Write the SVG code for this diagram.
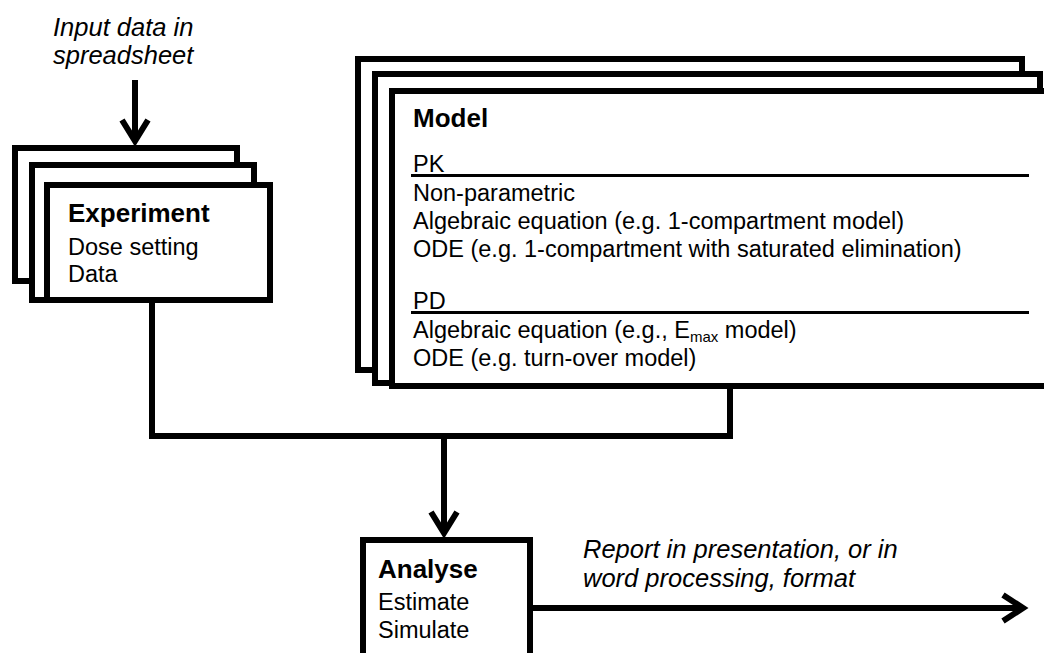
<svg xmlns="http://www.w3.org/2000/svg" width="1044" height="653" viewBox="0 0 1044 653">
  <style>
    .box { fill: #ffffff; stroke: #000000; stroke-width: 6; stroke-linejoin: miter; }
    .wire { fill: none; stroke: #000000; stroke-width: 6; stroke-linejoin: miter; stroke-linecap: butt; }
    .rule { stroke: #000000; stroke-width: 3; }
    text { font-family: "Liberation Sans", Arial, sans-serif; fill: #000000; }
    .head { font-size: 26px; font-weight: bold; }
    .body { font-size: 23.5px; }
    .note { font-size: 25.5px; font-style: italic; }
    .sub { font-size: 15px; }
  </style>

  <rect x="0" y="0" width="1044" height="653" fill="#ffffff"/>

  <!-- connectors -->
  <g id="connectors">
    <!-- spreadsheet input into Experiment -->
    <line class="wire" x1="135" y1="80" x2="135" y2="142"/>
    <polyline class="wire" points="122,120 135,141 148,120"/>
    <!-- Experiment and Model merge into Analyse -->
    <polyline class="wire" points="152,300 152,436 730,436 730,386"/>
    <line class="wire" x1="444" y1="436" x2="444" y2="534"/>
    <polyline class="wire" points="431,512 444,533 457,512"/>
    <!-- report output -->
    <line class="wire" x1="530" y1="608" x2="1023" y2="608"/>
    <polyline class="wire" points="1003,595 1023,608 1003,621"/>
  </g>

  <g id="label-input">
    <text class="note" x="53" y="35.5">Input data in</text>
    <text class="note" x="53" y="63.5">spreadsheet</text>
  </g>

  <g id="label-report">
    <text class="note" x="583" y="558">Report in presentation, or in</text>
    <text class="note" x="583" y="587">word processing, format</text>
  </g>

  <!-- Experiment: stacked cards -->
  <g id="node-experiment">
    <rect class="box" x="15" y="148" width="222" height="133"/>
    <rect class="box" x="32" y="165" width="222" height="135"/>
    <rect class="box" x="47" y="185" width="223" height="115"/>
    <text class="head" x="68" y="222">Experiment</text>
    <text class="body" x="68" y="255">Dose setting</text>
    <text class="body" x="68" y="282">Data</text>
  </g>

  <!-- Model: stacked cards -->
  <g id="node-model">
    <rect class="box" x="358" y="59" width="664" height="311"/>
    <rect class="box" x="375" y="74" width="665" height="309"/>
    <rect class="box" x="392" y="91" width="680" height="295"/>
    <text class="head" x="413" y="127">Model</text>
    <text class="body" x="413" y="171.5">PK</text>
    <line class="rule" x1="411" y1="175.5" x2="1029" y2="175.5"/>
    <text class="body" x="413" y="200.5">Non-parametric</text>
    <text class="body" x="413" y="229">Algebraic equation (e.g. 1-compartment model)</text>
    <text class="body" x="413" y="257">ODE (e.g. 1-compartment with saturated elimination)</text>
    <text class="body" x="413" y="309">PD</text>
    <line class="rule" x1="411" y1="312.5" x2="1029" y2="312.5"/>
    <text class="body" x="413" y="338">Algebraic equation (e.g., E<tspan class="sub" dy="4">max</tspan><tspan dy="-4"> model)</tspan></text>
    <text class="body" x="413" y="366">ODE (e.g. turn-over model)</text>
  </g>

  <!-- Analyse -->
  <g id="node-analyse">
    <rect class="box" x="363" y="540" width="167" height="160"/>
    <text class="head" x="378" y="578">Analyse</text>
    <text class="body" x="378" y="610">Estimate</text>
    <text class="body" x="378" y="638">Simulate</text>
  </g>
</svg>
